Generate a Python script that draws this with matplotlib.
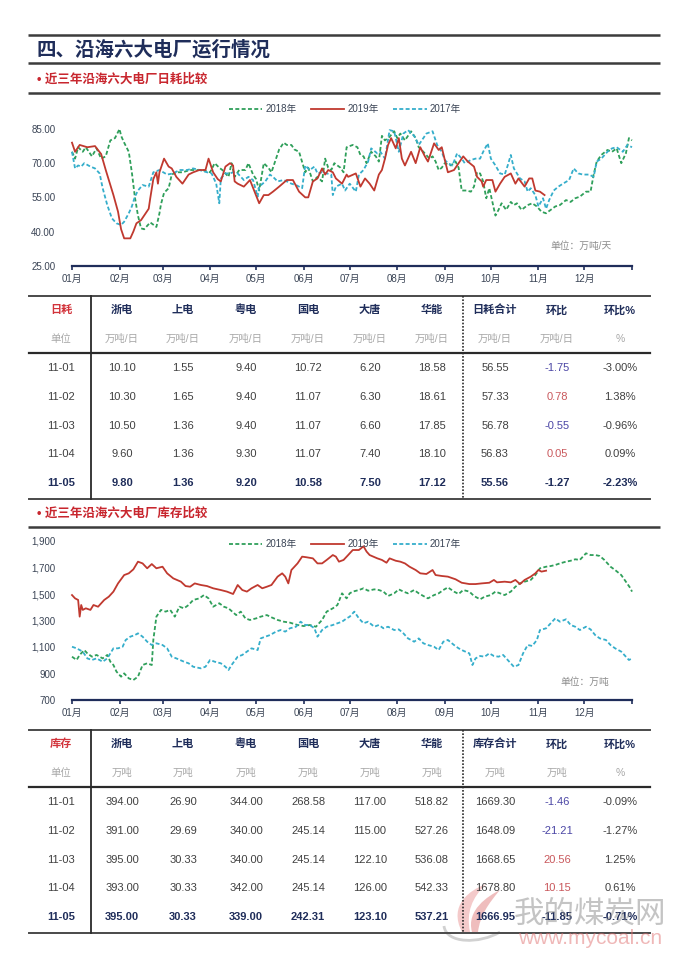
import numpy as np
import matplotlib
matplotlib.use('Agg')
import matplotlib.pyplot as plt
from matplotlib.lines import Line2D
from matplotlib.path import Path
from matplotlib.patches import PathPatch

plt.rcParams['font.family'] = ['Liberation Sans', 'Noto Sans CJK SC']

# ---------------- data ----------------
# 日耗 (万吨/天), (day of year, value)
c1_2019 = [(0,79),(2,75),(5,78),(10,77),(15,77.5),(19,74),(22,67),(27,56),(30,48.7),(32,41),(34,37),(38,37),
           (40,40),(42,43.6),(45,45),(47,47),(50,50),(51,54.6),(53,63),(55,66),(56,61),(57,66),(60,72),(63,68.5),
           (65,67.7),(68,64),(72,61),(76,65),(79,66),(83,67),(87,67),(89,72),(92,66),(95,63),(97,62),(100,68.5),
           (103,70),(105,69),(106,62),(108,61),(112,59.7),(116,62.6),(119,57.5),(122,52.4),(125,56),(128,56),
           (131,57.5),(135,59.7),(140,62.6),(144,62.6),(148,57.5),(152,55),(154,55),(157,62),(160,63.3),
           (163,67.7),(165,65),(167,67),(170,66),(172,63.3),(176,61),(179,65),(180,64),(185,65.5),(188,59.7),
           (191,63.3),(194,61),(197,58),(200,65),(202,67),(204,72),(206,78),(208,81),(211,76.5),(213,81),
           (215,72),(217,69),(221,75),(224,70),(227,77),(230,73),(232,70.7),(236,78.7),(239,75.8),(241,77),
           (243,71.4),(245,66),(249,67),(252,70),(255,73),(258,70.7),(262,68.5),(264,64),(267,62),(268,59.7),
           (270,62.6),(274,62.6),(276,57.5),(279,61),(282,64),(286,65.5),(289,61),(291,63.3),(295,59.7),
           (298,63.3),(300,63.3),(302,58),(305,57.5),(308,56)]
c1_2018 = [(0,75),(2,72),(4,77),(7,75),(9,77),(13,73),(16,76.5),(19,72),(22,73),(25,80),(28,81),(31,85),(32,82),
           (34,79),(37,75),(39,66),(41,55),(43,47),(45,41.4),(47,41),(51,44),(53,43),(55,42),(57,48),(58,52),
           (60,57),(63,59),(65,65),(68,66),(72,66),(77,67),(81,67),(85,67),(90,66),(93,70),(96,68),(98,67),
           (102,64),(104,70),(106,64),(109,67),(113,67),(115,70),(118,65),(120,63),(122,58),(125,70),(128,68),
           (130,66),(133,72),(135,76),(138,79),(140,78),(143,78),(145,76),(148,75),(152,66),(154,68),(157,62),
           (160,64),(163,62),(165,72),(167,68),(169,67),(171,70),(175,68),(177,66),(179,77),(183,78),(186,77),
           (188,73.6),(190,73),(192,70),(195,75),(198,73),(200,70.7),(202,82),(204,80),(207,81.6),(210,84),
           (212,81),(214,83),(217,80),(221,84),(224,81),(226,77),(229,75),(233,72),(235,73),(237,70.7),(239,67),
           (241,68),(243,70),(247,69),(250,70.7),(252,68),(254,58),(257,58),(260,57.5),(262,59.7),(264,66),
           (266,65.5),(268,62),(270,54.6),(272,59),(274,53),(276,47),(278,49.5),(280,52.4),(283,49.5),(286,53),
           (288,51.6),(290,52.4),(293,49.5),(297,51.6),(300,52.4),(303,51),(306,48.7),(309,48),(312,49.5),
           (315,51),(318,51.6),(322,53.8),(325,53),(328,54.6),(331,55.3),(335,57.5),(338,57.5),(340,65),
           (342,70.7),(345,73.6),(349,75.8),(352,75),(355,76.5),(358,70),(361,74.3),(363,81),(365,80)]
c1_2017 = [(0,75),(2,67.7),(4,69),(6,68.5),(8,70),(12,68.5),(15,67.7),(18,65.5),(20,59),(23,51.6),(26,45.8),
           (29,43.6),(32,42.9),(34,44.3),(37,48),(39,51),(41,55.3),(43,58),(46,60.4),(50,59.7),(53,66),(57,67),
           (62,65),(66,65.5),(70,67),(75,67),(79,67.7),(83,67),(88,66),(91,65.5),(94,61),(96,52.4),(97,63.3),
           (100,65.5),(103,65.5),(105,66),(108,65.5),(112,62.6),(115,64),(118,62.6),(121,55.3),(122,59.7),
           (126,62),(129,65),(131,64),(134,62),(138,62.6),(140,62),(143,61),(146,60.4),(150,59),(152,69),
           (155,67),(158,68.5),(160,65.5),(163,66),(166,65.5),(169,65),(170,56),(172,59.7),(176,61),(178,58),
           (181,61),(185,57.5),(187,65),(190,67),(193,70.7),(195,76.5),(199,74.3),(201,75),(204,72),(207,84.5),
           (210,84),(213,75),(216,83),(219,84.5),(223,82),(226,78),(228,80),(231,83),(235,84),(238,78),(241,75),
           (243,71.4),(245,70),(248,69),(251,74.3),(254,72),(256,70),(260,71.4),(263,72),(266,72),(268,75),
           (271,78.7),(273,72),(276,69),(279,65.5),(282,65),(284,69),(286,73.6),(288,67.7),(290,65.5),
           (292,63.3),(295,62),(297,57.5),(299,59),(302,56),(304,51),(307,54.6),(309,50),(311,53.8),(314,58),
           (317,59.7),(320,61),(324,62.6),(327,67.7),(330,65.5),(333,65),(337,65),(340,64),(342,70.7),(345,72),
           (349,75),(352,76.5),(355,77),(359,75),(362,78),(365,77)]

# 库存 (万吨)
c2_2019 = [(0,1492),(2,1467),(4,1455),(5,1329),(6,1417),(7,1380),(9,1392),(12,1380),(14,1417),(17,1404),
           (21,1455),(24,1480),(27,1518),(30,1580),(34,1643),(37,1656),(40,1686),(43,1744),(46,1731),(49,1694),
           (52,1726),(55,1694),(59,1706),(62,1656),(66,1618),(71,1593),(74,1560),(77,1555),(80,1580),(84,1568),
           (88,1560),(92,1543),(97,1530),(101,1518),(105,1500),(108,1568),(111,1530),(114,1518),(117,1543),
           (121,1568),(124,1543),(127,1555),(130,1568),(134,1631),(137,1656),(139,1631),(141,1580),(143,1681),
           (147,1731),(150,1782),(153,1777),(157,1769),(160,1731),(163,1731),(166,1757),(170,1794),(172,1782),
           (174,1744),(177,1757),(180,1794),(183,1832),(187,1832),(190,1860),(192,1820),(194,1794),(199,1769),
           (202,1757),(205,1736),(207,1769),(211,1751),(214,1744),(217,1731),(220,1706),(224,1681),(227,1656),
           (231,1651),(235,1681),(237,1643),(241,1636),(245,1631),(250,1611),(254,1585),(259,1575),(263,1575),
           (267,1580),(272,1585),(275,1606),(277,1588),(282,1593),(286,1588),(289,1606),(292,1575),(295,1606),
           (299,1631),(302,1656),(304,1681),(306,1669),(309,1676)]
c2_2018 = [(0,1027),(3,1002),(5,1040),(8,1077),(10,1052),(13,1027),(16,1040),(20,1014),(23,1040),(25,989),
           (27,964),(29,914),(32,876),(34,901),(37,863),(40,851),(43,876),(46,964),(49,977),(52,964),(53,1153),
           (55,1329),(58,1380),(61,1367),(64,1380),(67,1329),(70,1404),(73,1392),(76,1417),(79,1455),(83,1467),
           (86,1492),(89,1467),(92,1404),(96,1430),(99,1404),(102,1392),(107,1341),(110,1367),(113,1316),
           (116,1304),(120,1316),(123,1329),(127,1341),(130,1324),(134,1304),(138,1291),(142,1284),(147,1266),
           (151,1258),(155,1266),(159,1253),(161,1279),(163,1304),(166,1367),(170,1392),(173,1417),(176,1505),
           (179,1467),(181,1505),(183,1518),(187,1530),(190,1543),(193,1525),(197,1535),(200,1530),(203,1518),
           (206,1485),(210,1505),(213,1535),(216,1518),(219,1505),(223,1530),(226,1505),(229,1485),(232,1467),
           (236,1492),(239,1505),(242,1530),(245,1550),(249,1518),(252,1500),(255,1530),(259,1518),(262,1485),
           (266,1460),(269,1480),(273,1492),(276,1518),(279,1505),(282,1492),(286,1518),(289,1555),(292,1580),
           (295,1593),(299,1606),(302,1643),(305,1694),(309,1706),(312,1711),(315,1719),(318,1731),(322,1744),
           (325,1751),(328,1762),(331,1757),(335,1807),(338,1794),(341,1794),(344,1787),(347,1757),(351,1706),
           (354,1681),(358,1643),(361,1593),(364,1543),(365,1518)]
c2_2017 = [(0,1102),(3,1090),(7,1065),(10,1014),(13,1002),(16,1014),(20,989),(23,1014),(25,1052),(27,1090),
           (30,1090),(33,1102),(35,1153),(38,1178),(41,1190),(43,1203),(46,1178),(49,1140),(52,1115),(55,1128),
           (59,1115),(62,1090),(65,1027),(68,1014),(73,989),(76,977),(79,951),(84,939),(87,951),(90,1002),
           (93,989),(97,977),(100,951),(102,926),(104,964),(108,1027),(111,1040),(114,1065),(117,1090),
           (121,1077),(123,1165),(126,1178),(129,1190),(133,1216),(136,1228),(139,1216),(142,1241),(146,1253),
           (149,1291),(152,1266),(155,1266),(158,1241),(160,1178),(163,1228),(166,1253),(170,1266),(173,1279),
           (176,1291),(179,1316),(181,1329),(184,1367),(187,1316),(190,1279),(193,1291),(197,1253),(200,1266),
           (203,1241),(206,1253),(210,1228),(213,1233),(216,1203),(219,1165),(223,1140),(226,1165),(229,1128),
           (232,1115),(236,1102),(239,1077),(242,1140),(245,1153),(249,1115),(252,1090),(255,1072),(259,1052),
           (261,964),(263,1014),(266,1032),(269,1027),(272,1052),(275,1032),(278,1027),(281,1040),(285,989),
           (288,951),(291,964),(294,1052),(297,1115),(300,1108),(303,1153),(305,1228),(309,1241),(312,1279),
           (315,1316),(318,1291),(322,1309),(325,1266),(328,1253),(331,1228),(335,1253),(338,1233),(341,1190),
           (344,1165),(348,1153),(351,1115),(354,1090),(358,1065),(361,1027),(363,1002),(365,1014)]

month_days = [0, 31, 59, 90, 120, 151, 181, 212, 243, 273, 304, 334]
month_labels = ['01月', '02月', '03月', '04月', '05月', '06月', '07月', '08月', '09月', '10月', '11月', '12月']

# tables
dates = ['11-01', '11-02', '11-03', '11-04', '11-05']
plants = ['浙电', '上电', '粤电', '国电', '大唐', '华能']

d_zhe = [10.10, 10.30, 10.50, 9.60, 9.80]
d_shang = [1.55, 1.65, 1.36, 1.36, 1.36]
d_yue = [9.40, 9.40, 9.40, 9.30, 9.20]
d_guo = [10.72, 11.07, 11.07, 11.07, 10.58]
d_datang = [6.20, 6.30, 6.60, 7.40, 7.50]
d_huaneng = [18.58, 18.61, 17.85, 18.10, 17.12]
d_total = [56.55, 57.33, 56.78, 56.83, 55.56]
d_chg = [-1.75, 0.78, -0.55, 0.05, -1.27]
d_pct = [-3.00, 1.38, -0.96, 0.09, -2.23]

s_zhe = [394.00, 391.00, 395.00, 393.00, 395.00]
s_shang = [26.90, 29.69, 30.33, 30.33, 30.33]
s_yue = [344.00, 340.00, 340.00, 342.00, 339.00]
s_guo = [268.58, 245.14, 245.14, 245.14, 242.31]
s_datang = [117.00, 115.00, 122.10, 126.00, 123.10]
s_huaneng = [518.82, 527.26, 536.08, 542.33, 537.21]
s_total = [1669.30, 1648.09, 1668.65, 1678.80, 1666.95]
s_chg = [-1.46, -21.21, 20.56, 10.15, -11.85]
s_pct = [-0.09, -1.27, 1.25, 0.61, -0.71]

# ---------------- style ----------------
GREEN = '#2f9f5a'
RED = '#c0392f'
CYAN = '#35aecb'
NAVY = '#1f2d5a'
TICK = '#3a4455'

W, H = 687, 957
fig = plt.figure(figsize=(W / 100, H / 100), dpi=100)


def box(x0, y0, x1, y1):
    return [x0 / W, 1 - y1 / H, (x1 - x0) / W, (y1 - y0) / H]


def draw_chart(rect, series, ylim, yticks, yfmt, legend_y, unit_text, unit_xy):
    ax = fig.add_axes(rect)
    for data, color, ls, z in series:
        dd, vv = zip(*data)
        if ls == '-':
            ax.plot(dd, vv, color=color, lw=1.3, zorder=z, clip_on=False)
        else:
            ax.plot(dd, vv, color=color, lw=1.3, ls=(0, (2.2, 1.3)), zorder=z, clip_on=False)
    ax.set_xlim(0, 365)
    ax.set_ylim(*ylim)
    for s in ['top', 'right', 'left']:
        ax.spines[s].set_visible(False)
    ax.spines['bottom'].set_color(NAVY)
    ax.spines['bottom'].set_linewidth(1.6)
    ax.set_xticks(month_days + [365])
    ax.set_xticklabels(month_labels + [''])
    ax.tick_params(axis='x', direction='out', length=3, width=1.2, color=NAVY,
                   labelsize=7, labelcolor=TICK, pad=3)
    ax.set_yticks(yticks)
    ax.set_yticklabels([yfmt(v) for v in yticks])
    ax.tick_params(axis='y', length=0, labelsize=7, labelcolor=TICK, pad=12)
    handles = [Line2D([], [], color=GREEN, lw=1.3, ls=(0, (2.2, 1.3))),
               Line2D([], [], color=RED, lw=1.3),
               Line2D([], [], color=CYAN, lw=1.3, ls=(0, (2.2, 1.3)))]
    leg = ax.legend(handles, ['2018年', '2019年', '2017年'], loc='center', ncol=3,
                    bbox_to_anchor=(345 / W, 1 - legend_y / H), bbox_transform=fig.transFigure,
                    frameon=False, fontsize=7, handlelength=3.4, handletextpad=0.35,
                    columnspacing=1.5)
    for t in leg.get_texts():
        t.set_color(TICK)
    fig.text(unit_xy[0] / W, 1 - unit_xy[1] / H, unit_text, fontsize=7, color='#8c8c8c',
             ha='left', va='center')
    return ax


draw_chart(box(72, 129, 632, 265.7),
           [(c1_2018, GREEN, '--', 2), (c1_2017, CYAN, '--', 3), (c1_2019, RED, '-', 4)],
           (25, 85), [25, 40, 55, 70, 85], lambda v: f'{v:.2f}', 109,
           '单位：万吨/天', (550, 246))

draw_chart(box(72, 541, 632, 700),
           [(c2_2018, GREEN, '--', 2), (c2_2017, CYAN, '--', 3), (c2_2019, RED, '-', 4)],
           (700, 1900), [700, 900, 1100, 1300, 1500, 1700, 1900], lambda v: f'{v:,.0f}', 544,
           '单位：万吨', (560, 682))

# ---------------- overlay: headings, tables, watermark ----------------
ax0 = fig.add_axes([0, 0, 1, 1])
ax0.set_xlim(0, W)
ax0.set_ylim(H, 0)
ax0.axis('off')

for yy in [35, 63, 93, 527]:
    ax0.plot([28, 660], [yy, yy], color='#3c3c3c', lw=1.8, solid_capstyle='butt')

ax0.text(37, 50, '四、沿海六大电厂运行情况', fontsize=14, weight='bold', color=NAVY,
         ha='left', va='center', family=['Noto Sans CJK SC'])
ax0.text(37, 79, '• 近三年沿海六大电厂日耗比较', fontsize=9, weight='bold', color='#c8262e',
         ha='left', va='center')
ax0.text(37, 513, '• 近三年沿海六大电厂库存比较', fontsize=9, weight='bold', color='#c8262e',
         ha='left', va='center')

col_x = [61, 122, 183, 246, 308, 370, 432, 495, 557, 620]


def draw_table(top, first_head, total_head, unit, cols, total, chg, pct):
    ax0.plot([29, 650], [top, top], color='#4a4a4a', lw=1.4)
    ax0.plot([29, 650], [top + 57, top + 57], color='#2a2a2a', lw=1.6)
    ax0.plot([29, 650], [top + 203, top + 203], color='#4a4a4a', lw=1.4)
    ax0.plot([91, 91], [top, top + 203], color='#2a2a2a', lw=1.3)
    ax0.plot([463, 463], [top, top + 203], color='#2a2a2a', lw=1.2, ls=(0, (1, 1)))

    heads = [first_head] + plants + [total_head, '环比', '环比%']
    units = ['单位'] + [unit] * 8 + ['%']
    for i, (hx, hd, un) in enumerate(zip(col_x, heads, units)):
        ax0.text(hx, top + 14, hd, fontsize=8, weight='bold', ha='center', va='center',
                 color='#d2333b' if i == 0 else NAVY)
        ax0.text(hx, top + 43, un, fontsize=7.5, ha='center', va='center', color='#a8a8a8')

    for r, dt in enumerate(dates):
        yy = top + 72 + 28.8 * r
        last = r == len(dates) - 1
        wt = 'bold' if last else 'normal'
        base = NAVY if last else '#404040'
        ax0.text(col_x[0], yy, dt, fontsize=8, ha='center', va='center', color=base, weight=wt)
        vals = [c[r] for c in cols] + [total[r]]
        for k, v in enumerate(vals):
            ax0.text(col_x[1 + k], yy, f'{v:.2f}', fontsize=8, ha='center', va='center',
                     color=base, weight=wt)
        if last:
            cc = NAVY
        else:
            cc = '#4b46a5' if chg[r] < 0 else '#c9585c'
        ax0.text(col_x[8], yy, f'{chg[r]:.2f}', fontsize=8, ha='center', va='center',
                 color=cc, weight=wt)
        ax0.text(col_x[9], yy, f'{pct[r]:.2f}%', fontsize=8, ha='center', va='center',
                 color=base, weight=wt)


draw_table(296, '日耗', '日耗合计', '万吨/日',
           [d_zhe, d_shang, d_yue, d_guo, d_datang, d_huaneng], d_total, d_chg, d_pct)
draw_table(730, '库存', '库存合计', '万吨',
           [s_zhe, s_shang, s_yue, s_guo, s_datang, s_huaneng], s_total, s_chg, s_pct)

# watermark
flame = Path([(462, 932), (448, 905), (470, 890), (486, 884), (472, 898), (466, 912), (470, 932), (462, 932)],
             [Path.MOVETO, Path.CURVE4, Path.CURVE4, Path.CURVE4, Path.CURVE4, Path.CURVE4, Path.CURVE4,
              Path.CLOSEPOLY])
ax0.add_patch(PathPatch(flame, facecolor='#e88a8a', edgecolor='none', alpha=0.45))
flame2 = Path([(472, 932), (466, 910), (488, 896), (500, 890), (488, 904), (480, 916), (478, 932), (472, 932)],
              [Path.MOVETO, Path.CURVE4, Path.CURVE4, Path.CURVE4, Path.CURVE4, Path.CURVE4, Path.CURVE4,
               Path.CLOSEPOLY])
ax0.add_patch(PathPatch(flame2, facecolor='#d85c5c', edgecolor='none', alpha=0.4))
swoosh = Path([(444, 926), (446, 944), (480, 944), (500, 932)],
              [Path.MOVETO, Path.CURVE4, Path.CURVE4, Path.CURVE4])
ax0.add_patch(PathPatch(swoosh, facecolor='none', edgecolor='#9a9a9a', lw=2, alpha=0.45))
ax0.text(590, 914, '我的煤炭网', fontsize=22, color='#8a8a8a', alpha=0.5, ha='center', va='center',
         family=['Noto Sans CJK SC'])
ax0.text(590, 938, 'www.mycoal.cn', fontsize=15, color='#e07070', alpha=0.5, ha='center', va='center')

fig.savefig('out.png', dpi=100, facecolor='white')
